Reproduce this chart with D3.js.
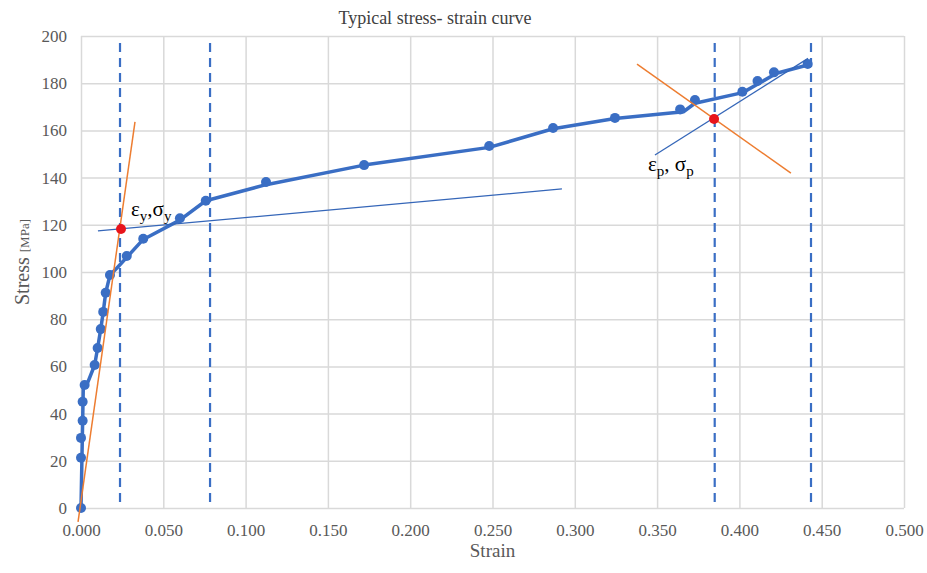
<!DOCTYPE html>
<html>
<head>
<meta charset="utf-8">
<script src="https://cdn.jsdelivr.net/npm/d3@7"></script>
<style>
  html, body { margin: 0; padding: 0; background: #fff; }
  svg { display: block; font-family: "Liberation Serif", "Times New Roman", serif; }
</style>
</head>
<body>
<svg id="chart" width="927" height="573"></svg>
<script>
// Typical stress-strain curve

// measured points (markers)
const pointStrain = [0, 0, 0, 0.001, 0.001, 0.0022, 0.0083, 0.0101, 0.012, 0.0135, 0.015, 0.0176,
  0.0278, 0.0378, 0.0601, 0.0758, 0.1124, 0.172, 0.248, 0.2868, 0.3244, 0.364, 0.373, 0.4018,
  0.411, 0.421, 0.4415];
const pointStress = [0, 21.3, 29.7, 37.0, 45.0, 52.1, 60.6, 67.8, 75.8, 83.1, 91.2, 98.7,
  106.8, 114.1, 122.8, 130.2, 138.1, 145.3, 153.4, 161.0, 165.3, 168.9, 172.9, 176.4,
  180.9, 184.6, 188.1];

// fitted curve (thick line)
const curveStrain = [0, 0.0014, 0.004, 0.0083, 0.0101, 0.012, 0.0135, 0.015, 0.0176, 0.0217, 0.0378,
  0.060, 0.0758, 0.1124, 0.172, 0.248, 0.2868, 0.3244, 0.366, 0.373, 0.402, 0.4226, 0.4415];
const curveStress = [0, 51.4, 53, 60.6, 67.8, 75.8, 83.1, 91.2, 98.7, 101.6, 113.8,
  122, 130.2, 137, 145.3, 152.8, 160.7, 165, 167.9, 171.5, 176.0, 184.2, 187.7];

// vertical dashed markers
const dashStrain = [0.0237, 0.0784, 0.385, 0.4435];

// construction lines [x1, y1, x2, y2]
const orangeLines = [
  [-0.0018, -5.9, 0.0328, 163.6],
  [0.3378, 188.1, 0.4313, 141.9]
];
const blueLines = [
  [0.0103, 117.4, 0.2922, 135.2],
  [0.3487, 149.6, 0.4417, 190.5]
];

// key points
const keyStrain = [0.0243, 0.3846];
const keyStress = [118.2, 164.8];

const xTicks = d3.range(0, 0.5001, 0.05);
const yTicks = d3.range(0, 201, 20);

const margin = { left: 81, right: 23, top: 36, bottom: 65 };
const W = 927, H = 573;
const serif = "Liberation Serif, Times New Roman, serif";

const svg = d3.select("#chart");
const x = d3.scaleLinear().domain([0, 0.5]).range([margin.left, W - margin.right]);
const y = d3.scaleLinear().domain([0, 200]).range([H - margin.bottom, margin.top]);

const blue = "#3a6ec4";
const orange = "#ed7d31";

// gridlines + tick labels
svg.append("g")
  .attr("transform", `translate(0,${H - margin.bottom})`)
  .call(d3.axisBottom(x).tickValues(xTicks).tickSize(-(H - margin.top - margin.bottom)).tickFormat(d3.format(".3f")))
  .attr("font-family", serif)
  .attr("font-size", 17)
  .call(g => {
    g.select(".domain").remove();
    g.selectAll(".tick line").attr("stroke", "#d9d9d9").attr("stroke-width", 1.5);
    g.selectAll(".tick text").attr("y", 13).attr("dy", "0.9em").attr("fill", "#595959");
  });

svg.append("g")
  .attr("transform", `translate(${margin.left},0)`)
  .call(d3.axisLeft(y).tickValues(yTicks).tickSize(-(W - margin.left - margin.right)))
  .attr("font-family", serif)
  .attr("font-size", 17)
  .call(g => {
    g.select(".domain").remove();
    g.selectAll(".tick line").attr("stroke", "#d9d9d9").attr("stroke-width", 1.5);
    g.selectAll(".tick text").attr("x", -14).attr("fill", "#595959");
  });

// dashed verticals
svg.append("g").selectAll("line")
  .data(dashStrain)
  .enter().append("line")
  .attr("x1", d => x(d)).attr("x2", d => x(d))
  .attr("y1", y(197)).attr("y2", y(1))
  .attr("stroke", blue).attr("stroke-width", 2.2)
  .attr("stroke-dasharray", "9,6");

// fitted curve
const line = d3.line().x(d => x(d[0])).y(d => y(d[1]));
svg.append("path")
  .datum(curveStrain.map((s, i) => [s, curveStress[i]]))
  .attr("d", line)
  .attr("fill", "none")
  .attr("stroke", blue)
  .attr("stroke-width", 3.5)
  .attr("stroke-linejoin", "round");

// markers
svg.append("g").selectAll("circle")
  .data(pointStrain.map((s, i) => [s, pointStress[i]]))
  .enter().append("circle")
  .attr("cx", d => x(d[0])).attr("cy", d => y(d[1]))
  .attr("r", 5)
  .attr("fill", blue);

// construction lines
svg.append("g").selectAll("line")
  .data(orangeLines)
  .enter().append("line")
  .attr("x1", d => x(d[0])).attr("y1", d => y(d[1]))
  .attr("x2", d => x(d[2])).attr("y2", d => y(d[3]))
  .attr("stroke", orange).attr("stroke-width", 1.5);

svg.append("g").selectAll("line")
  .data(blueLines)
  .enter().append("line")
  .attr("x1", d => x(d[0])).attr("y1", d => y(d[1]))
  .attr("x2", d => x(d[2])).attr("y2", d => y(d[3]))
  .attr("stroke", "#3566b8").attr("stroke-width", 1.3);

// key points
svg.append("g").selectAll("circle")
  .data(keyStrain.map((s, i) => [s, keyStress[i]]))
  .enter().append("circle")
  .attr("cx", d => x(d[0])).attr("cy", d => y(d[1]))
  .attr("r", 5)
  .attr("fill", "#e8141b");

// annotations
function subLabel(px, py, parts) {
  const t = svg.append("text")
    .attr("x", px).attr("y", py)
    .attr("fill", "#000")
    .attr("font-family", serif)
    .attr("font-size", 21);
  parts.forEach(p => {
    const s = t.append("tspan").text(p.t);
    if (p.sub) s.attr("dy", 5).attr("font-size", 15);
    else if (p.back) s.attr("dy", -5);
  });
}
subLabel(131, 216, [{ t: "ε" }, { t: "y", sub: true }, { t: ",σ", back: true }, { t: "y", sub: true }]);
subLabel(648, 171, [{ t: "ε" }, { t: "p", sub: true }, { t: ", σ", back: true }, { t: "p", sub: true }]);

// title
svg.append("text")
  .attr("x", 435).attr("y", 24)
  .attr("text-anchor", "middle")
  .attr("fill", "#404040")
  .attr("font-family", serif)
  .attr("font-size", 18)
  .text("Typical stress- strain curve");

// axis titles
svg.append("text")
  .attr("x", (margin.left + W - margin.right) / 2).attr("y", 557)
  .attr("text-anchor", "middle")
  .attr("fill", "#595959")
  .attr("font-family", serif)
  .attr("font-size", 19)
  .text("Strain");

const yt = svg.append("text")
  .attr("transform", "translate(29,262) rotate(-90)")
  .attr("text-anchor", "middle")
  .attr("fill", "#595959")
  .attr("font-family", serif)
  .attr("font-size", 20);
yt.append("tspan").text("Stress ");
yt.append("tspan").attr("font-size", 13).text(" [MPa]");
</script>
</body>
</html>
